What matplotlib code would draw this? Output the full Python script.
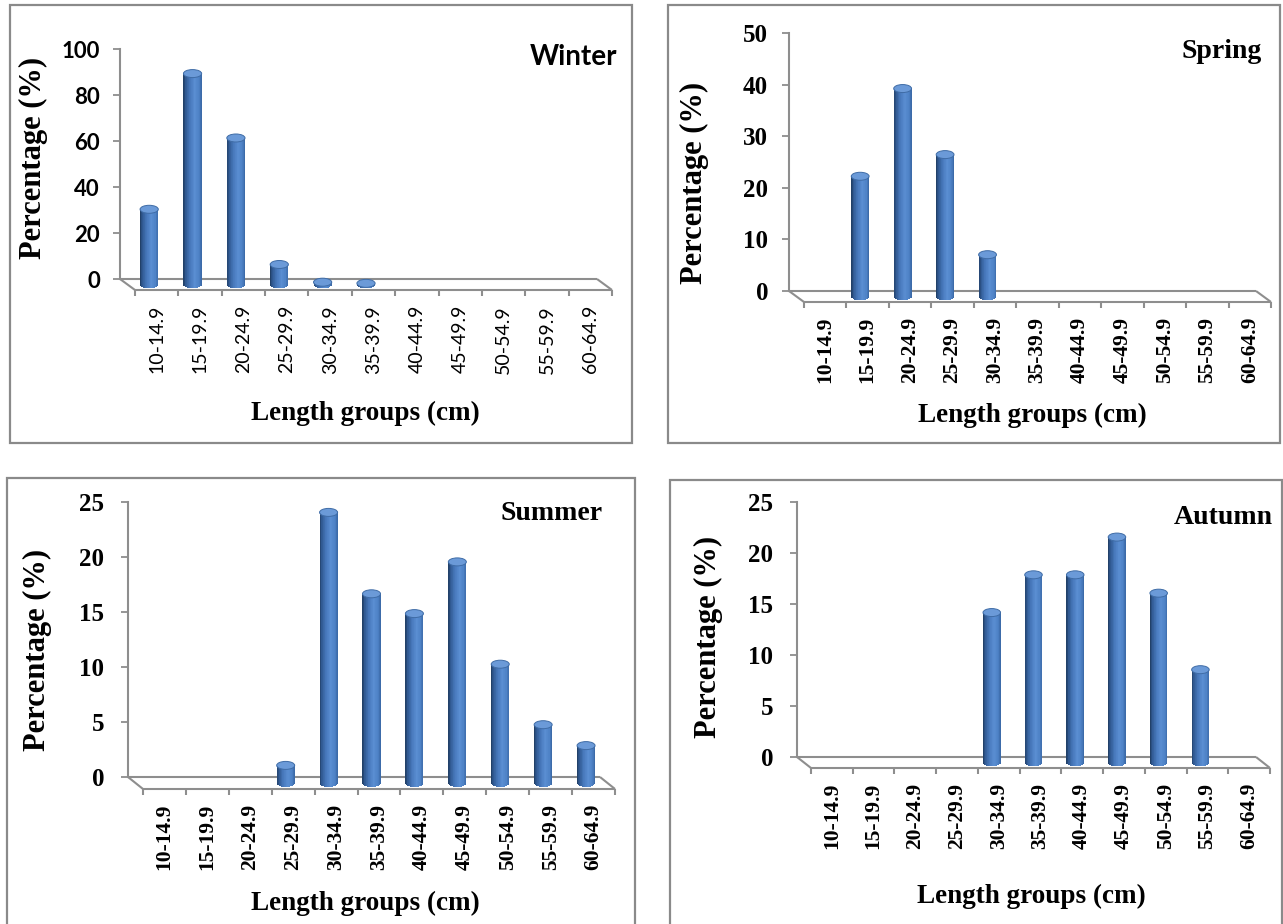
import numpy as np
import matplotlib
matplotlib.use('Agg')
import matplotlib.pyplot as plt
from matplotlib.patches import Rectangle, Ellipse
from matplotlib.colors import LinearSegmentedColormap

# ---------------- data ----------------
categories = ['10-14.9', '15-19.9', '20-24.9', '25-29.9', '30-34.9', '35-39.9',
              '40-44.9', '45-49.9', '50-54.9', '55-59.9', '60-64.9']
winter = [32.7, 91.7, 63.7, 8.7, 1, 0.5, 0, 0, 0, 0, 0]
spring = [0, 23.3, 40.3, 27.5, 8.1, 0, 0, 0, 0, 0, 0]
summer = [0, 0, 0, 1.6, 24.6, 17.2, 15.4, 20.1, 10.8, 5.3, 3.4]
autumn = [0, 0, 0, 0, 14.7, 18.4, 18.4, 22.1, 16.6, 9.1, 0]
season_names = ['Winter', 'Spring', 'Summer', 'Autumn']
y_max = [100, 50, 25, 25]
y_step = [20, 10, 5, 5]
y_label = 'Percentage (%)'
x_label = 'Length groups (cm)'

# ---------------- style / layout ----------------
W, H = 1283, 924
fig = plt.figure(figsize=(W / 100, H / 100), dpi=100)


def fx(x):
    return x / W


def fy(y):
    return 1 - y / H


SERIF = 'Liberation Serif'
SANS = 'Lato'
GRAY = '#8e8e8e'
BORDER = '#8a8a8a'

cyl = LinearSegmentedColormap.from_list(
    'cyl', [(0.0, '#203d63'), (0.12, '#2f5890'), (0.35, '#4677ba'),
            (0.62, '#5a8ed2'), (0.85, '#4e82c6'), (1.0, '#3a68a6')])
TOP_FACE = '#6b9ad8'
TOP_EDGE = '#3f6ca6'

layouts = [
    dict(box=(10, 5, 632, 443), ax_x=120, ax_r=597, y_top=49, y_zero=279, dx=15, dy=11,
         yt_font=SANS, yt_size=16, yt_weight='bold', yt_pad=9.5,
         xt_font=SANS, xt_size=14, xt_weight='normal',
         title_font=SANS, title_right=617, title_y=57,
         ylab=(33, 158), xlab=(365, 413)),
    dict(box=(668, 5, 1280, 443), ax_x=789, ax_r=1256, y_top=33, y_zero=291, dx=15, dy=11,
         yt_font=SERIF, yt_size=18, yt_weight='bold', yt_pad=10,
         xt_font=SERIF, xt_size=15.5, xt_weight='bold',
         title_font=SERIF, title_right=1262, title_y=52,
         ylab=(694, 183), xlab=(1032, 415)),
    dict(box=(7, 478, 635, 940), ax_x=128, ax_r=600, y_top=502, y_zero=777, dx=15, dy=12,
         yt_font=SERIF, yt_size=18, yt_weight='bold', yt_pad=12,
         xt_font=SERIF, xt_size=15.5, xt_weight='bold',
         title_font=SERIF, title_right=603, title_y=513,
         ylab=(37, 650), xlab=(365, 903)),
    dict(box=(670, 480, 1282, 940), ax_x=797, ax_r=1256, y_top=502, y_zero=757, dx=14, dy=11,
         yt_font=SERIF, yt_size=18, yt_weight='bold', yt_pad=12,
         xt_font=SERIF, xt_size=15.5, xt_weight='bold',
         title_font=SERIF, title_right=1273, title_y=517,
         ylab=(708, 637), xlab=(1031, 896)),
]

series = [winter, spring, summer, autumn]

N_STRIPS = 28
BAR_W = 0.42
ELL_PX = 4.0      # half height of cylinder cap, px
TICK_PX = 6.0
LABEL_PAD_PX = 15

for values, name, ymax, ystep, lay in zip(series, season_names, y_max, y_step, layouts):
    # panel border
    x0, y0, x1, y1 = lay['box']
    fig.patches.append(Rectangle((fx(x0), fy(y1)), fx(x1) - fx(x0), fy(y0) - fy(y1),
                                 transform=fig.transFigure, fill=False,
                                 edgecolor=BORDER, linewidth=1.6, zorder=0))

    ax = fig.add_axes([fx(lay['ax_x']), fy(lay['y_zero']),
                       fx(lay['ax_r']) - fx(lay['ax_x']),
                       fy(lay['y_top']) - fy(lay['y_zero'])])
    ax.patch.set_alpha(0)
    n = len(categories)
    x = np.arange(n)
    ax.set_xlim(-0.5, n - 0.5)
    ax.set_ylim(0, ymax)
    ppx = (lay['ax_r'] - lay['ax_x']) / n
    ppy = (lay['y_zero'] - lay['y_top']) / ymax
    dxd = lay['dx'] / ppx
    dyd = lay['dy'] / ppy

    for s in ['top', 'right', 'bottom']:
        ax.spines[s].set_visible(False)
    ax.spines['left'].set_color(GRAY)
    ax.spines['left'].set_linewidth(1.5)
    ax.set_xticks([])
    ax.set_yticks(np.arange(0, ymax + ystep / 2, ystep))
    ax.tick_params(axis='y', direction='out', length=5, width=1.3, color=GRAY,
                   pad=lay['yt_pad'])
    for t in ax.get_yticklabels():
        t.set_fontfamily(lay['yt_font'])
        t.set_fontsize(lay['yt_size'])
        t.set_fontweight(lay['yt_weight'])

    # 3-D floor
    lkw = dict(color=GRAY, lw=1.5, clip_on=False, solid_capstyle='butt')
    ax.plot([-0.5, n - 0.5], [0, 0], **lkw)
    ax.plot([-0.5 + dxd, n - 0.5 + dxd], [-dyd, -dyd], **lkw)
    ax.plot([-0.5, -0.5 + dxd], [0, -dyd], **lkw)
    ax.plot([n - 0.5, n - 0.5 + dxd], [0, -dyd], **lkw)
    bounds = np.arange(n + 1) - 0.5 + dxd
    ax.vlines(bounds, -dyd - TICK_PX / ppy, -dyd, color=GRAY, lw=1.5, clip_on=False)

    # category labels on the front edge
    for i, lab in enumerate(categories):
        ax.annotate(lab, xy=(x[i] + dxd, -dyd), xytext=(0, -LABEL_PAD_PX),
                    textcoords='offset pixels', rotation=90, ha='center', va='top',
                    fontfamily=lay['xt_font'], fontsize=lay['xt_size'],
                    fontweight=lay['xt_weight'], annotation_clip=False)

    # cylinders
    v = np.asarray(values, dtype=float)
    mask = v > 0
    xc = x[mask] + dxd / 2
    base = -dyd / 2
    tops = v[mask] - dyd / 2
    e = ELL_PX / ppy
    sw = BAR_W / N_STRIPS
    for k in range(N_STRIPS):
        t = (k + 0.5) / N_STRIPS * 2 - 1
        bottoms = np.full(xc.shape, base - e * np.sqrt(1 - t * t))
        ax.bar(xc - BAR_W / 2 + (k + 0.5) * sw, tops - bottoms, width=sw * 1.08,
               bottom=bottoms, color=cyl((k + 0.5) / N_STRIPS), linewidth=0,
               clip_on=False, zorder=3)
    for xi, ti in zip(xc, tops):
        ax.add_patch(Ellipse((xi, ti), BAR_W, 2 * e, facecolor=TOP_FACE,
                             edgecolor=TOP_EDGE, linewidth=0.7, clip_on=False, zorder=4))

    # texts
    fig.text(fx(lay['ylab'][0]), fy(lay['ylab'][1]), y_label, rotation=90,
             ha='center', va='center', fontfamily=SERIF, fontweight='bold', fontsize=22)
    fig.text(fx(lay['xlab'][0]), fy(lay['xlab'][1]), x_label,
             ha='center', va='center', fontfamily=SERIF, fontweight='bold', fontsize=19.5)
    fig.text(fx(lay['title_right']), fy(lay['title_y']), name, ha='right', va='center',
             fontfamily=lay['title_font'], fontweight='bold', fontsize=20)

fig.savefig('out.png', dpi=100, facecolor='white')
